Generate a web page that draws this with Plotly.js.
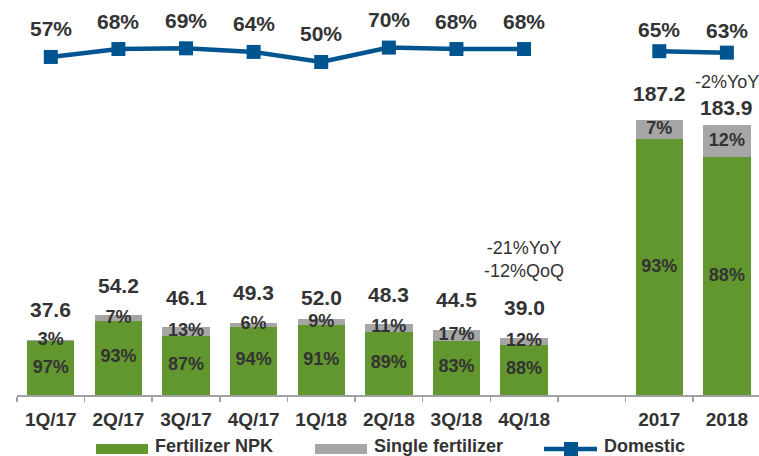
<!DOCTYPE html>
<html>
<head>
<meta charset="utf-8">
<script src="https://cdn.plot.ly/plotly-3.0.1.min.js"></script>
<style>html,body{margin:0;padding:0;background:#fff}#chart{width:759px;height:456px}</style>
</head>
<body>
<div id="chart"></div>
<script>
// ---- data ----
const categories = ['1Q/17','2Q/17','3Q/17','4Q/17','1Q/18','2Q/18','3Q/18','4Q/18',' ','2017','2018'];
const totals     = [37.6, 54.2, 46.1, 49.3, 52.0, 48.3, 44.5, 39.0, null, 187.2, 183.9];
const npkPct     = [97, 93, 87, 94, 91, 89, 83, 88, null, 93, 88];
const singlePct  = [3, 7, 13, 6, 9, 11, 17, 12, null, 7, 12];
const domestic   = [57, 68, 69, 64, 50, 70, 68, 68, null, 65, 63];
const seriesNames = ['Fertilizer NPK', 'Single fertilizer', 'Domestic'];
const notes4Q18 = '-21%YoY<br>-12%QoQ';
const note2018 = '-2%YoY';

// ---- styling ----
const GREEN = '#62962E', GRAY = '#A6A6A6', BLUE = '#00548F', TXT = '#333333';
const FONT = 'Liberation Sans, Arial, sans-serif';
const W = 759, H = 456, ML = 17, MB = 61;
const PW = W - ML, PH = H - MB;

const npkVal = totals.map((t, i) => t == null ? null : t * npkPct[i] / 100);
const singleVal = totals.map((t, i) => t == null ? null : t * singlePct[i] / 100);

const traces = [
  { type: 'bar', x: categories, y: npkVal, name: seriesNames[0], marker: { color: GREEN }, hoverinfo: 'skip' },
  { type: 'bar', x: categories, y: singleVal, name: seriesNames[1], marker: { color: GRAY }, hoverinfo: 'skip' },
  { type: 'scatter', mode: 'text', x: categories, y: npkVal.map(v => v == null ? null : v / 2),
    text: npkPct.map(p => p == null ? '' : p + '%'), textposition: 'middle center',
    textfont: { family: FONT, size: 18, color: TXT, weight: 'bold' }, hoverinfo: 'skip' },
  { type: 'scatter', mode: 'text', x: categories, y: npkVal.map((v, i) => v == null ? null : v + singleVal[i] / 2),
    text: singlePct.map(p => p == null ? '' : p + '%'), textposition: 'middle center',
    textfont: { family: FONT, size: 18, color: TXT, weight: 'bold' }, hoverinfo: 'skip' },
  { type: 'scatter', mode: 'lines+markers', x: categories, y: domestic, yaxis: 'y2', name: seriesNames[2],
    connectgaps: false, line: { color: BLUE, width: 4.5 },
    marker: { symbol: 'square', size: 14, color: BLUE }, hoverinfo: 'skip' }
];

// annotations (x given as category index)
const annotations = [];
const totalShift = { '1Q/18': 21, '2017': 27, '2018': 17 };
categories.forEach((c, i) => {
  if (totals[i] == null) return;
  annotations.push({ x: i, y: totals[i], xref: 'x', yref: 'y', text: totals[i].toFixed(1),
    showarrow: false, yanchor: 'middle', yshift: totalShift[c] != null ? totalShift[c] : 30,
    font: { family: FONT, size: 21, color: TXT, weight: 'bold' } });
  const annual = (c === '2017' || c === '2018');
  annotations.push({ x: i, y: domestic[i], xref: 'x', yref: 'y2', text: domestic[i] + '%',
    showarrow: false, yanchor: 'middle', yshift: annual ? 22 : 28,
    font: { family: FONT, size: 21, color: TXT, weight: 'bold' } });
});
const i4Q = categories.indexOf('4Q/18'), i18 = categories.indexOf('2018');
annotations.push({ x: i4Q, y: totals[i4Q], xref: 'x', yref: 'y', text: notes4Q18, showarrow: false,
  yanchor: 'middle', yshift: 78, align: 'center', font: { family: FONT, size: 18, color: TXT } });
annotations.push({ x: i18, y: totals[i18], xref: 'x', yref: 'y', text: note2018, showarrow: false,
  yanchor: 'middle', yshift: 43, font: { family: FONT, size: 18, color: TXT } });

// custom legend (pixel -> paper helpers)
const px = v => (v - ML) / PW;
const py = v => (PH - v) / PH;
const shapes = [
  { type: 'rect', xref: 'paper', yref: 'paper', x0: px(96), x1: px(148), y0: py(444), y1: py(454), fillcolor: GREEN, line: { width: 0 } },
  { type: 'rect', xref: 'paper', yref: 'paper', x0: px(315), x1: px(367), y0: py(444), y1: py(454), fillcolor: GRAY, line: { width: 0 } },
  { type: 'line', xref: 'paper', yref: 'paper', x0: px(544), x1: px(597), y0: py(449), y1: py(449), line: { color: BLUE, width: 4.5 } },
  { type: 'rect', xref: 'paper', yref: 'paper', x0: px(564), x1: px(578), y0: py(442), y1: py(456), fillcolor: BLUE, line: { width: 0 } }
];
[[153, seriesNames[0]], [372, seriesNames[1]], [602, seriesNames[2]]].forEach(([x, t]) => {
  annotations.push({ xref: 'paper', yref: 'paper', x: px(x), y: py(446), text: t, showarrow: false,
    xanchor: 'left', yanchor: 'middle', font: { family: FONT, size: 18, color: TXT, weight: 'bold' } });
});

const layout = {
  width: W, height: H, margin: { l: ML, r: 0, t: 0, b: MB },
  paper_bgcolor: '#fff', plot_bgcolor: '#fff', showlegend: false, barmode: 'stack', bargap: 0.3,
  xaxis: { type: 'category', range: [-0.5, 10.475], tickson: 'boundaries', ticks: 'outside', ticklen: 5,
    tickcolor: '#A0A0A0', tickwidth: 1.5, showline: true, linecolor: '#A0A0A0', linewidth: 2,
    showgrid: false, zeroline: false, fixedrange: true, ticklabelstandoff: 6,
    tickfont: { family: FONT, size: 19, color: TXT, weight: 'bold' } },
  yaxis: { range: [0, 268.9], visible: false, fixedrange: true },
  yaxis2: { range: [-412.5, 136.1], overlaying: 'y', visible: false, fixedrange: true },
  annotations: annotations, shapes: shapes
};

Plotly.newPlot('chart', traces, layout, { displayModeBar: false, staticPlot: true });
</script>
</body>
</html>
